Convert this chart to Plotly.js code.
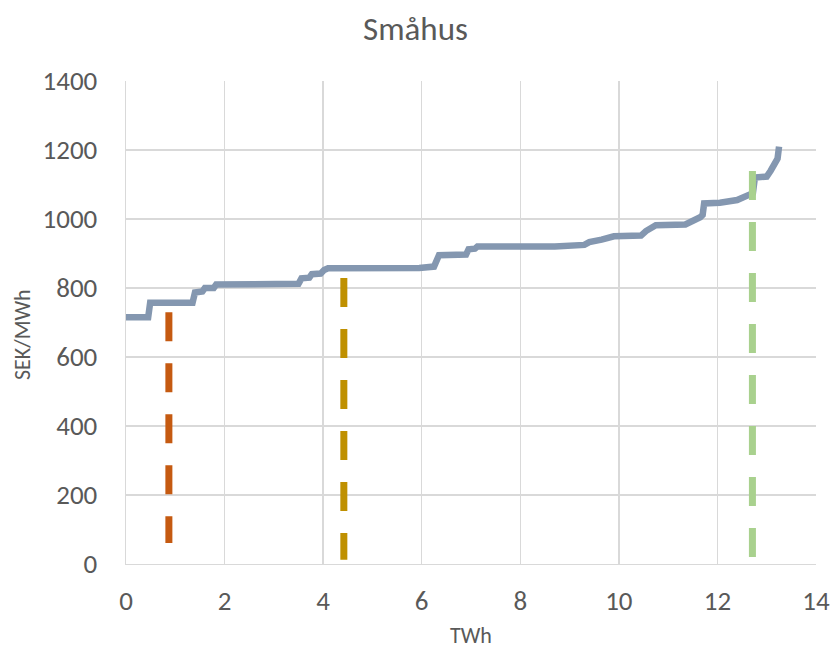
<!DOCTYPE html>
<html>
<head>
<meta charset="utf-8">
<script src="https://cdn.plot.ly/plotly-3.0.1.min.js"></script>
<style>html,body{margin:0;padding:0;background:#fff;}#chart{width:831px;height:650px;}</style>
</head>
<body>
<div id="chart"></div>
<script>
// Supply curve (TWh, SEK/MWh)
const curveTWh = [0, 0.45, 0.49, 1.35, 1.40, 1.55, 1.60, 1.78, 1.83, 2.65, 2.70, 3.50, 3.56, 3.72, 3.77, 3.95, 4.02, 4.10, 5.95, 6.25, 6.35, 6.90, 6.95, 7.08, 7.13, 8.70, 9.30, 9.40, 9.65, 9.90, 10.45, 10.55, 10.75, 11.35, 11.65, 11.70, 11.73, 12.05, 12.40, 12.60, 12.72, 12.76, 13.00, 13.08, 13.17, 13.22, 13.25];
const curvePrice = [715, 715, 757, 757, 787, 790, 800, 800, 810, 810, 812, 812, 828, 830, 840, 842, 852, 857, 858, 862, 895, 897, 912, 914, 920, 920, 925, 933, 940, 950, 952, 965, 982, 984, 1005, 1012, 1045, 1047, 1055, 1070, 1075, 1120, 1123, 1140, 1160, 1175, 1210];

// Dashed vertical markers
const markerTWh = [0.87, 4.42, 12.71];
const markerTop = [730, 829, 1139];
const markerBottom = [61, 12, 20];
const markerColors = ['#C55A11', '#BF9000', '#A9D18E'];

const xTicks = [0, 2, 4, 6, 8, 10, 12, 14];
const yTicks = [0, 200, 400, 600, 800, 1000, 1200, 1400];
const xTitle = 'TWh';
const yTitle = 'SEK/MWh';

const traces = [{
  x: curveTWh, y: curvePrice, type: 'scatter', mode: 'lines',
  line: {color: '#8497B0', width: 6.5}, hoverinfo: 'skip'
}];
markerTWh.forEach((xv, i) => {
  traces.push({
    x: [xv, xv], y: [markerTop[i], markerBottom[i]], type: 'scatter', mode: 'lines',
    line: {color: markerColors[i], width: 7, dash: '29px,22px'}, hoverinfo: 'skip'
  });
});

const font = "Carlito, 'Open Sans', 'Liberation Sans', sans-serif";
const layout = {
  width: 831, height: 650,
  margin: {l: 126, r: 15, t: 81, b: 86},
  paper_bgcolor: '#fff', plot_bgcolor: '#fff',
  showlegend: false,
  font: {family: font, color: '#595959'},
  title: {text: 'Småhus', font: {size: 33, color: '#595959', family: font}, x: 0.5, xanchor: 'center', y: 0.957, yanchor: 'middle'},
  xaxis: {
    range: [0, 14], tickvals: xTicks, ticktext: xTicks.map(String),
    showgrid: true, gridcolor: '#d9d9d9', gridwidth: 1.3,
    zeroline: false, showline: true, linecolor: '#d9d9d9', linewidth: 1.3,
    ticks: '', ticklabelstandoff: 12,
    tickfont: {size: 27, color: '#595959', family: font}
  },
  yaxis: {
    range: [0, 1400], tickvals: yTicks, ticktext: yTicks.map(String),
    showgrid: true, gridcolor: '#d9d9d9', gridwidth: 1.3,
    zeroline: false, showline: true, linecolor: '#d9d9d9', linewidth: 1.3,
    ticks: '', ticklabelstandoff: 22,
    tickfont: {size: 27, color: '#595959', family: font}
  },
  annotations: [
    {text: xTitle, xref: 'paper', yref: 'paper', x: 0.5, y: -0.149, xanchor: 'center', yanchor: 'middle', showarrow: false,
     font: {size: 22, color: '#595959', family: font}},
    {text: yTitle, xref: 'paper', yref: 'paper', x: -0.1507, y: 0.474, xanchor: 'center', yanchor: 'middle', showarrow: false, textangle: -90,
     font: {size: 22, color: '#595959', family: font}}
  ]
};
Plotly.newPlot('chart', traces, layout, {displayModeBar: false, staticPlot: true});
</script>
</body>
</html>
